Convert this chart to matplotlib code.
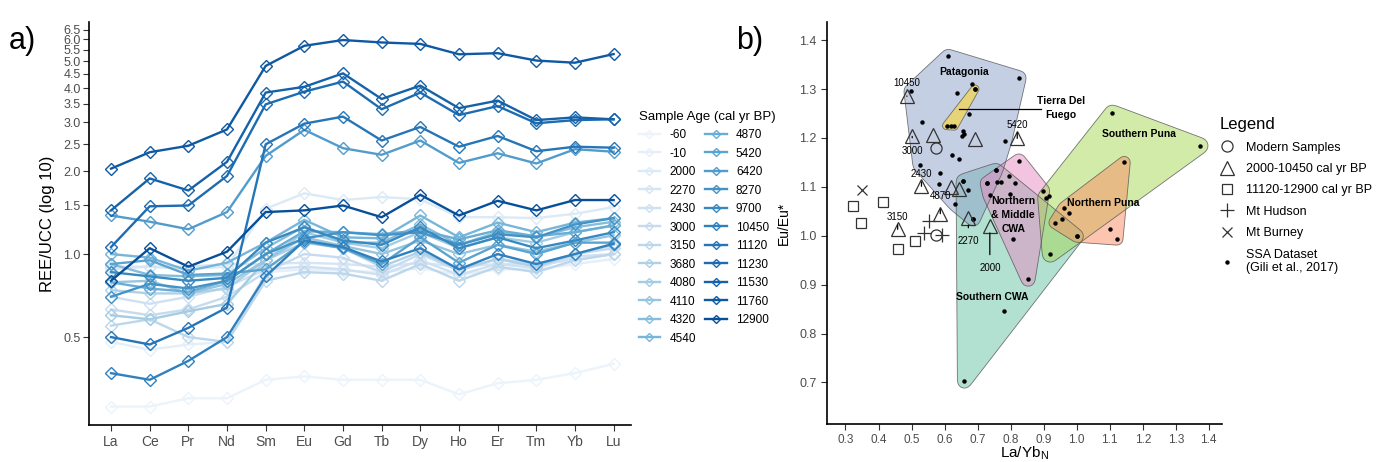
import matplotlib.pyplot as plt
import numpy as np
from matplotlib.lines import Line2D
from matplotlib.patches import Polygon
from matplotlib.ticker import NullLocator

plt.rcParams['font.family'] = ['Liberation Sans', 'DejaVu Sans']

# ---- panel a: REE profiles normalised to UCC ----
elements = ['La', 'Ce', 'Pr', 'Nd', 'Sm', 'Eu', 'Gd', 'Tb', 'Dy', 'Ho', 'Er', 'Tm', 'Yb', 'Lu']
ages = ['-60', '-10', '2000', '2270', '2430', '3000', '3150', '3680', '4080', '4110', '4320',
        '4540', '4870', '5420', '6420', '8270', '9700', '10450', '11120', '11230', '11530',
        '11760', '12900']

ree_m60 = [0.28, 0.28, 0.30, 0.30, 0.35, 0.36, 0.35, 0.35, 0.35, 0.31, 0.34, 0.35, 0.37, 0.40]
ree_m10 = [0.48, 0.45, 0.47, 0.48, 0.86, 0.88, 0.87, 0.86, 0.89, 0.84, 0.88, 0.88, 0.92, 0.96]
ree_2000 = [0.88, 0.90, 0.88, 0.90, 1.46, 1.66, 1.57, 1.61, 1.58, 1.36, 1.36, 1.35, 1.40, 1.48]
ree_2270 = [0.90, 0.90, 0.90, 0.92, 0.92, 0.93, 0.92, 0.90, 0.93, 0.90, 0.92, 0.92, 0.95, 1.00]
ree_2430 = [0.70, 0.66, 0.70, 0.76, 0.88, 0.90, 0.88, 0.84, 0.95, 0.84, 0.92, 0.89, 0.98, 1.00]
ree_3000 = [0.63, 0.60, 0.63, 0.70, 0.86, 1.00, 0.97, 0.86, 1.00, 0.87, 0.96, 0.92, 1.00, 1.05]
ree_3150 = [0.55, 0.58, 0.50, 0.48, 0.80, 0.86, 0.85, 0.80, 0.92, 0.80, 0.90, 0.86, 0.95, 1.00]
ree_3680 = [0.74, 0.72, 0.72, 0.75, 0.95, 1.10, 1.05, 0.90, 1.02, 0.88, 0.96, 0.90, 1.00, 1.08]
ree_4080 = [0.60, 0.58, 0.62, 0.66, 0.95, 1.20, 1.10, 1.05, 1.20, 1.05, 1.15, 1.10, 1.20, 1.27]
ree_4110 = [0.79, 0.80, 0.72, 0.78, 0.95, 1.15, 1.07, 1.00, 1.12, 1.00, 1.08, 1.02, 1.10, 1.17]
ree_4320 = [0.92, 0.84, 0.83, 0.84, 1.05, 1.26, 1.10, 1.10, 1.28, 1.08, 1.20, 1.15, 1.25, 1.31]
ree_4540 = [1.00, 0.97, 0.87, 0.93, 1.10, 1.33, 1.15, 1.14, 1.38, 1.15, 1.30, 1.20, 1.30, 1.35]
ree_4870 = [0.79, 0.75, 0.73, 0.80, 1.00, 1.21, 1.20, 1.18, 1.22, 1.13, 1.22, 1.16, 1.20, 1.27]
ree_5420 = [0.92, 0.95, 0.84, 0.85, 0.88, 1.11, 1.05, 0.92, 1.15, 0.93, 1.08, 1.00, 1.10, 1.10]
ree_6420 = [1.38, 1.31, 1.23, 1.42, 2.27, 2.82, 2.42, 2.29, 2.58, 2.14, 2.32, 2.13, 2.40, 2.35]
ree_8270 = [0.70, 0.78, 0.75, 0.80, 1.00, 1.14, 1.20, 1.17, 1.20, 1.08, 1.18, 1.15, 1.28, 1.35]
ree_9700 = [0.86, 0.83, 0.80, 0.82, 1.10, 1.25, 1.12, 1.08, 1.25, 1.05, 1.15, 1.05, 1.12, 1.20]
ree_10450 = [0.37, 0.35, 0.41, 0.50, 0.83, 1.12, 1.06, 0.94, 1.05, 0.88, 1.00, 0.92, 1.00, 1.09]
ree_11120 = [0.50, 0.47, 0.54, 0.64, 2.50, 2.97, 3.15, 2.58, 2.89, 2.45, 2.68, 2.36, 2.45, 2.43]
ree_11230 = [1.06, 1.49, 1.50, 1.92, 3.49, 3.88, 4.22, 3.35, 3.85, 3.19, 3.44, 2.98, 3.06, 3.08]
ree_11530 = [1.44, 1.88, 1.70, 2.16, 3.85, 4.04, 4.52, 3.65, 4.08, 3.38, 3.60, 3.06, 3.13, 3.08]
ree_11760 = [2.04, 2.34, 2.47, 2.83, 4.81, 5.69, 5.97, 5.85, 5.78, 5.30, 5.35, 5.03, 4.94, 5.31]
ree_12900 = [0.80, 1.05, 0.90, 1.02, 1.42, 1.44, 1.50, 1.36, 1.64, 1.38, 1.56, 1.44, 1.57, 1.57]

profiles = [ree_m60, ree_m10, ree_2000, ree_2270, ree_2430, ree_3000, ree_3150, ree_3680,
            ree_4080, ree_4110, ree_4320, ree_4540, ree_4870, ree_5420, ree_6420, ree_8270,
            ree_9700, ree_10450, ree_11120, ree_11230, ree_11530, ree_11760, ree_12900]

# ---- panel b: Eu anomaly vs La/Yb ----
modern_x = [0.573, 0.574]
modern_y = [1.179, 1.002]
holo_x = [0.486, 0.502, 0.564, 0.692, 0.820, 0.530, 0.618, 0.644, 0.587, 0.458, 0.672, 0.737]
holo_y = [1.285, 1.203, 1.205, 1.197, 1.199, 1.101, 1.099, 1.095, 1.045, 1.013, 1.036, 1.020]
glacial_x = [0.323, 0.414, 0.346, 0.511, 0.459]
glacial_y = [1.061, 1.068, 1.026, 0.989, 0.972]
hudson_x = [0.552, 0.538, 0.591]
hudson_y = [1.030, 1.006, 1.001]
burney_x = [0.350]
burney_y = [1.094]

sample_labels = ['10450', '3000', '5420', '2430', '4870', '3150', '2270', '2000']
label_idx = [0, 1, 4, 5, 8, 9, 10, 11]
label_x = [0.486, 0.502, 0.820, 0.531, 0.587, 0.458, 0.672, 0.737]
label_y = [1.313, 1.173, 1.226, 1.126, 1.081, 1.038, 0.989, 0.934]

# SSA source areas (Gili et al., 2017)
patagonia_x = [0.611, 0.826, 0.684, 0.692, 0.638, 0.498, 0.674, 0.532, 0.656, 0.659, 0.652,
               0.782, 0.621, 0.644, 0.525, 0.586, 0.582, 0.656, 0.631, 0.755, 0.687]
patagonia_y = [1.367, 1.323, 1.311, 1.300, 1.292, 1.296, 1.248, 1.233, 1.214, 1.209, 1.204,
               1.193, 1.165, 1.156, 1.145, 1.128, 1.105, 1.112, 1.065, 1.134, 1.034]
fuego_x = [0.606, 0.618, 0.629, 0.692]
fuego_y = [1.225, 1.225, 1.224, 1.300]
scwa_x = [0.660, 0.780, 1.000, 0.687, 0.671, 0.656, 0.729, 0.755]
scwa_y = [0.702, 0.846, 0.999, 1.034, 1.094, 1.112, 1.107, 1.134]
nmcwa_x = [0.825, 0.795, 0.759, 0.771, 0.813, 0.737, 0.798, 0.807, 0.853, 0.729, 0.897]
nmcwa_y = [1.153, 1.122, 1.110, 1.109, 1.107, 1.083, 1.086, 0.994, 0.911, 1.107, 1.092]
spuna_x = [1.108, 1.374, 0.906, 0.917, 0.920]
spuna_y = [1.251, 1.184, 1.078, 1.081, 0.962]
npuna_x = [0.934, 0.955, 0.962, 0.978, 1.000, 1.101, 1.122, 1.144]
npuna_y = [1.027, 1.035, 1.057, 1.047, 0.999, 1.013, 0.993, 1.150]


def convex_hull(pts):
    pts = sorted(set(map(tuple, pts)))

    def cross(o, a, b):
        return (a[0] - o[0]) * (b[1] - o[1]) - (a[1] - o[1]) * (b[0] - o[0])

    lower, upper = [], []
    for p in pts:
        while len(lower) >= 2 and cross(lower[-2], lower[-1], p) <= 0:
            lower.pop()
        lower.append(p)
    for p in reversed(pts):
        while len(upper) >= 2 and cross(upper[-2], upper[-1], p) <= 0:
            upper.pop()
        upper.append(p)
    return np.array(lower[:-1] + upper[:-1])


def chaikin(poly, n=4):
    for _ in range(n):
        nxt = np.roll(poly, -1, axis=0)
        q = 0.75 * poly + 0.25 * nxt
        r = 0.25 * poly + 0.75 * nxt
        poly = np.empty((2 * len(poly), 2))
        poly[0::2] = q
        poly[1::2] = r
    return poly


def mark_hull(ax, xs, ys, pad, color, alpha=0.5):
    # rounded hull: convex hull of circles (in pixels) around each point, then smoothed
    disp = ax.transData.transform(np.column_stack([xs, ys]))
    t = np.linspace(0, 2 * np.pi, 48, endpoint=False)
    circle = np.column_stack([np.cos(t), np.sin(t)]) * pad
    ring = (disp[:, None, :] + circle[None, :, :]).reshape(-1, 2)
    hull = convex_hull(ring)
    # resample the outline evenly so the smoothing rounds the long edges too
    closed = np.vstack([hull, hull[:1]])
    seg = np.hypot(*np.diff(closed, axis=0).T)
    cum = np.concatenate([[0], np.cumsum(seg)])
    s = np.linspace(0, cum[-1], 120, endpoint=False)
    even = np.column_stack([np.interp(s, cum, closed[:, 0]), np.interp(s, cum, closed[:, 1])])
    outline = ax.transData.inverted().transform(chaikin(even, 3))
    ax.add_patch(Polygon(outline, closed=True, facecolor=color, alpha=alpha,
                         edgecolor='none', zorder=1))
    ax.add_patch(Polygon(outline, closed=True, facecolor='none', edgecolor='#555555',
                         lw=0.6, alpha=0.8, zorder=1.1))


fig = plt.figure(figsize=(13.84, 4.62), dpi=100)
grey = '#4d4d4d'

# ---------- a) ----------
ax1 = fig.add_axes([89 / 1384, 37 / 462, 542 / 1384, 403 / 462])
colors = plt.cm.Blues(np.linspace(0.06, 0.88, len(ages)))
xpos = np.arange(len(elements))
for vals, c in zip(profiles, colors):
    ax1.plot(xpos, vals, color=c, lw=1.7, marker='D', ms=6, mfc='none', mew=1.0)

ax1.set_yscale('log')
ax1.set_ylim(0.24, 6.94)
ax1.set_xlim(-0.57, 13.45)
yt = np.arange(0.5, 6.51, 0.5)
ax1.set_yticks(yt)
ax1.set_yticklabels([f'{v:.1f}' for v in yt])
ax1.yaxis.set_minor_locator(NullLocator())
ax1.set_xticks(xpos)
ax1.set_xticklabels(elements)
ax1.tick_params(axis='x', labelsize=10, labelcolor=grey, color='#333333', length=4)
ax1.tick_params(axis='y', labelsize=9, labelcolor=grey, color='#333333', length=4, pad=2)
ax1.set_ylabel('REE/UCC (log 10)', fontsize=12, labelpad=6)
for s in ['top', 'right']:
    ax1.spines[s].set_visible(False)
for s in ['left', 'bottom']:
    ax1.spines[s].set_linewidth(1.2)

handles = [Line2D([], [], color=c, lw=1.7, marker='D', ms=4.5, mfc='none', mew=1.0)
           for c in colors]
fig.legend(handles, ages, loc='upper left', bbox_to_anchor=(628 / 1384, 1 - 100 / 462),
           ncol=2, frameon=False, fontsize=8.5, title='Sample Age (cal yr BP)',
           title_fontsize=9.5, handlelength=1.8, labelspacing=0.55,
           columnspacing=0.8, handletextpad=0.8, alignment='left')

fig.text(0.006, 0.895, 'a)', fontsize=22)

# ---------- b) ----------
ax2 = fig.add_axes([827 / 1384, 38 / 462, 395 / 1384, 402 / 462])
ax2.set_xlim(0.244, 1.44)
ax2.set_ylim(0.615, 1.437)

mark_hull(ax2, scwa_x, scwa_y, 7, '#66c2a5')
mark_hull(ax2, patagonia_x, patagonia_y, 7, '#8da0cb')
mark_hull(ax2, nmcwa_x, nmcwa_y, 7, '#e78ac3')
mark_hull(ax2, spuna_x, spuna_y, 8, '#a6d854')
mark_hull(ax2, npuna_x, npuna_y, 6, '#fc8d62')
mark_hull(ax2, fuego_x, fuego_y, 4, '#ffd92f', alpha=0.6)

dots_x = patagonia_x + fuego_x + scwa_x + nmcwa_x + spuna_x + npuna_x
dots_y = patagonia_y + fuego_y + scwa_y + nmcwa_y + spuna_y + npuna_y
ax2.plot(dots_x, dots_y, 'o', color='black', ms=2.2, zorder=3, ls='none')

mk = dict(ls='none', mfc='none', mec='#333333', mew=0.9, zorder=4)
ax2.plot(modern_x, modern_y, marker='o', ms=8, **mk)
ax2.plot(holo_x, holo_y, marker='^', ms=10, **mk)
ax2.plot(glacial_x, glacial_y, marker='s', ms=7.5, **mk)
ax2.plot(hudson_x, hudson_y, marker='+', ms=10, **mk)
ax2.plot(burney_x, burney_y, marker='x', ms=7, **mk)

for lab, i, tx, ty in zip(sample_labels, label_idx, label_x, label_y):
    ax2.annotate(lab, xy=(holo_x[i], holo_y[i]), xytext=(tx, ty), fontsize=7,
                 ha='center', va='center', zorder=5,
                 arrowprops=dict(arrowstyle='-', lw=0.9, color='black',
                                 shrinkA=4, shrinkB=5))

bold = dict(fontsize=7.5, fontweight='bold', ha='center', va='center', zorder=5)
ax2.text(0.658, 1.334, 'Patagonia', **bold)
ax2.text(0.952, 1.262, 'Tierra Del\nFuego', linespacing=1.5, **bold)
ax2.plot([0.645, 0.893], [1.260, 1.260], color='black', lw=0.9, zorder=5)
ax2.text(0.808, 1.042, 'Northern\n& Middle\nCWA', linespacing=1.5, **bold)
ax2.text(1.190, 1.207, 'Southern Puna', **bold)
ax2.text(1.081, 1.066, 'Northern Puna', **bold)
ax2.text(0.744, 0.875, 'Southern CWA', **bold)

ax2.set_xticks(np.round(np.arange(0.3, 1.41, 0.1), 1))
ax2.set_xticklabels([f'{v:.1f}' for v in np.arange(0.3, 1.41, 0.1)])
ax2.set_yticks(np.round(np.arange(0.7, 1.41, 0.1), 1))
ax2.set_yticklabels([f'{v:.1f}' for v in np.arange(0.7, 1.41, 0.1)])
ax2.tick_params(axis='x', labelsize=8.5, labelcolor=grey, color='#333333', length=4, pad=3)
ax2.tick_params(axis='y', labelsize=9, labelcolor=grey, color='#333333', length=4)
ax2.set_xlabel('La/Yb$_\\mathregular{N}$', fontsize=11, labelpad=-1)
ax2.set_ylabel('Eu/Eu*', fontsize=10, labelpad=6)
for s in ['top', 'right']:
    ax2.spines[s].set_visible(False)
for s in ['left', 'bottom']:
    ax2.spines[s].set_linewidth(1.2)

lk = dict(ls='none', mfc='none', mec='#333333', mew=0.9)
leg_handles = [Line2D([], [], marker='o', ms=8, **lk),
               Line2D([], [], marker='^', ms=10, **lk),
               Line2D([], [], marker='s', ms=7.5, **lk),
               Line2D([], [], marker='+', ms=10, **lk),
               Line2D([], [], marker='x', ms=7, **lk),
               Line2D([], [], marker='o', ms=2.2, ls='none', color='black')]
leg_labels = ['Modern Samples', '2000-10450 cal yr BP', '11120-12900 cal yr BP',
              'Mt Hudson', 'Mt Burney', 'SSA Dataset\n(Gili et al., 2017)']
fig.legend(leg_handles, leg_labels, loc='upper left', bbox_to_anchor=(1208 / 1384, 1 - 106 / 462),
           frameon=False, fontsize=9, title='Legend', title_fontsize=12, handlelength=1.2,
           labelspacing=0.75, handletextpad=0.9, alignment='left')

fig.text(0.532, 0.895, 'b)', fontsize=22)

fig.savefig('out.png', dpi=100)
